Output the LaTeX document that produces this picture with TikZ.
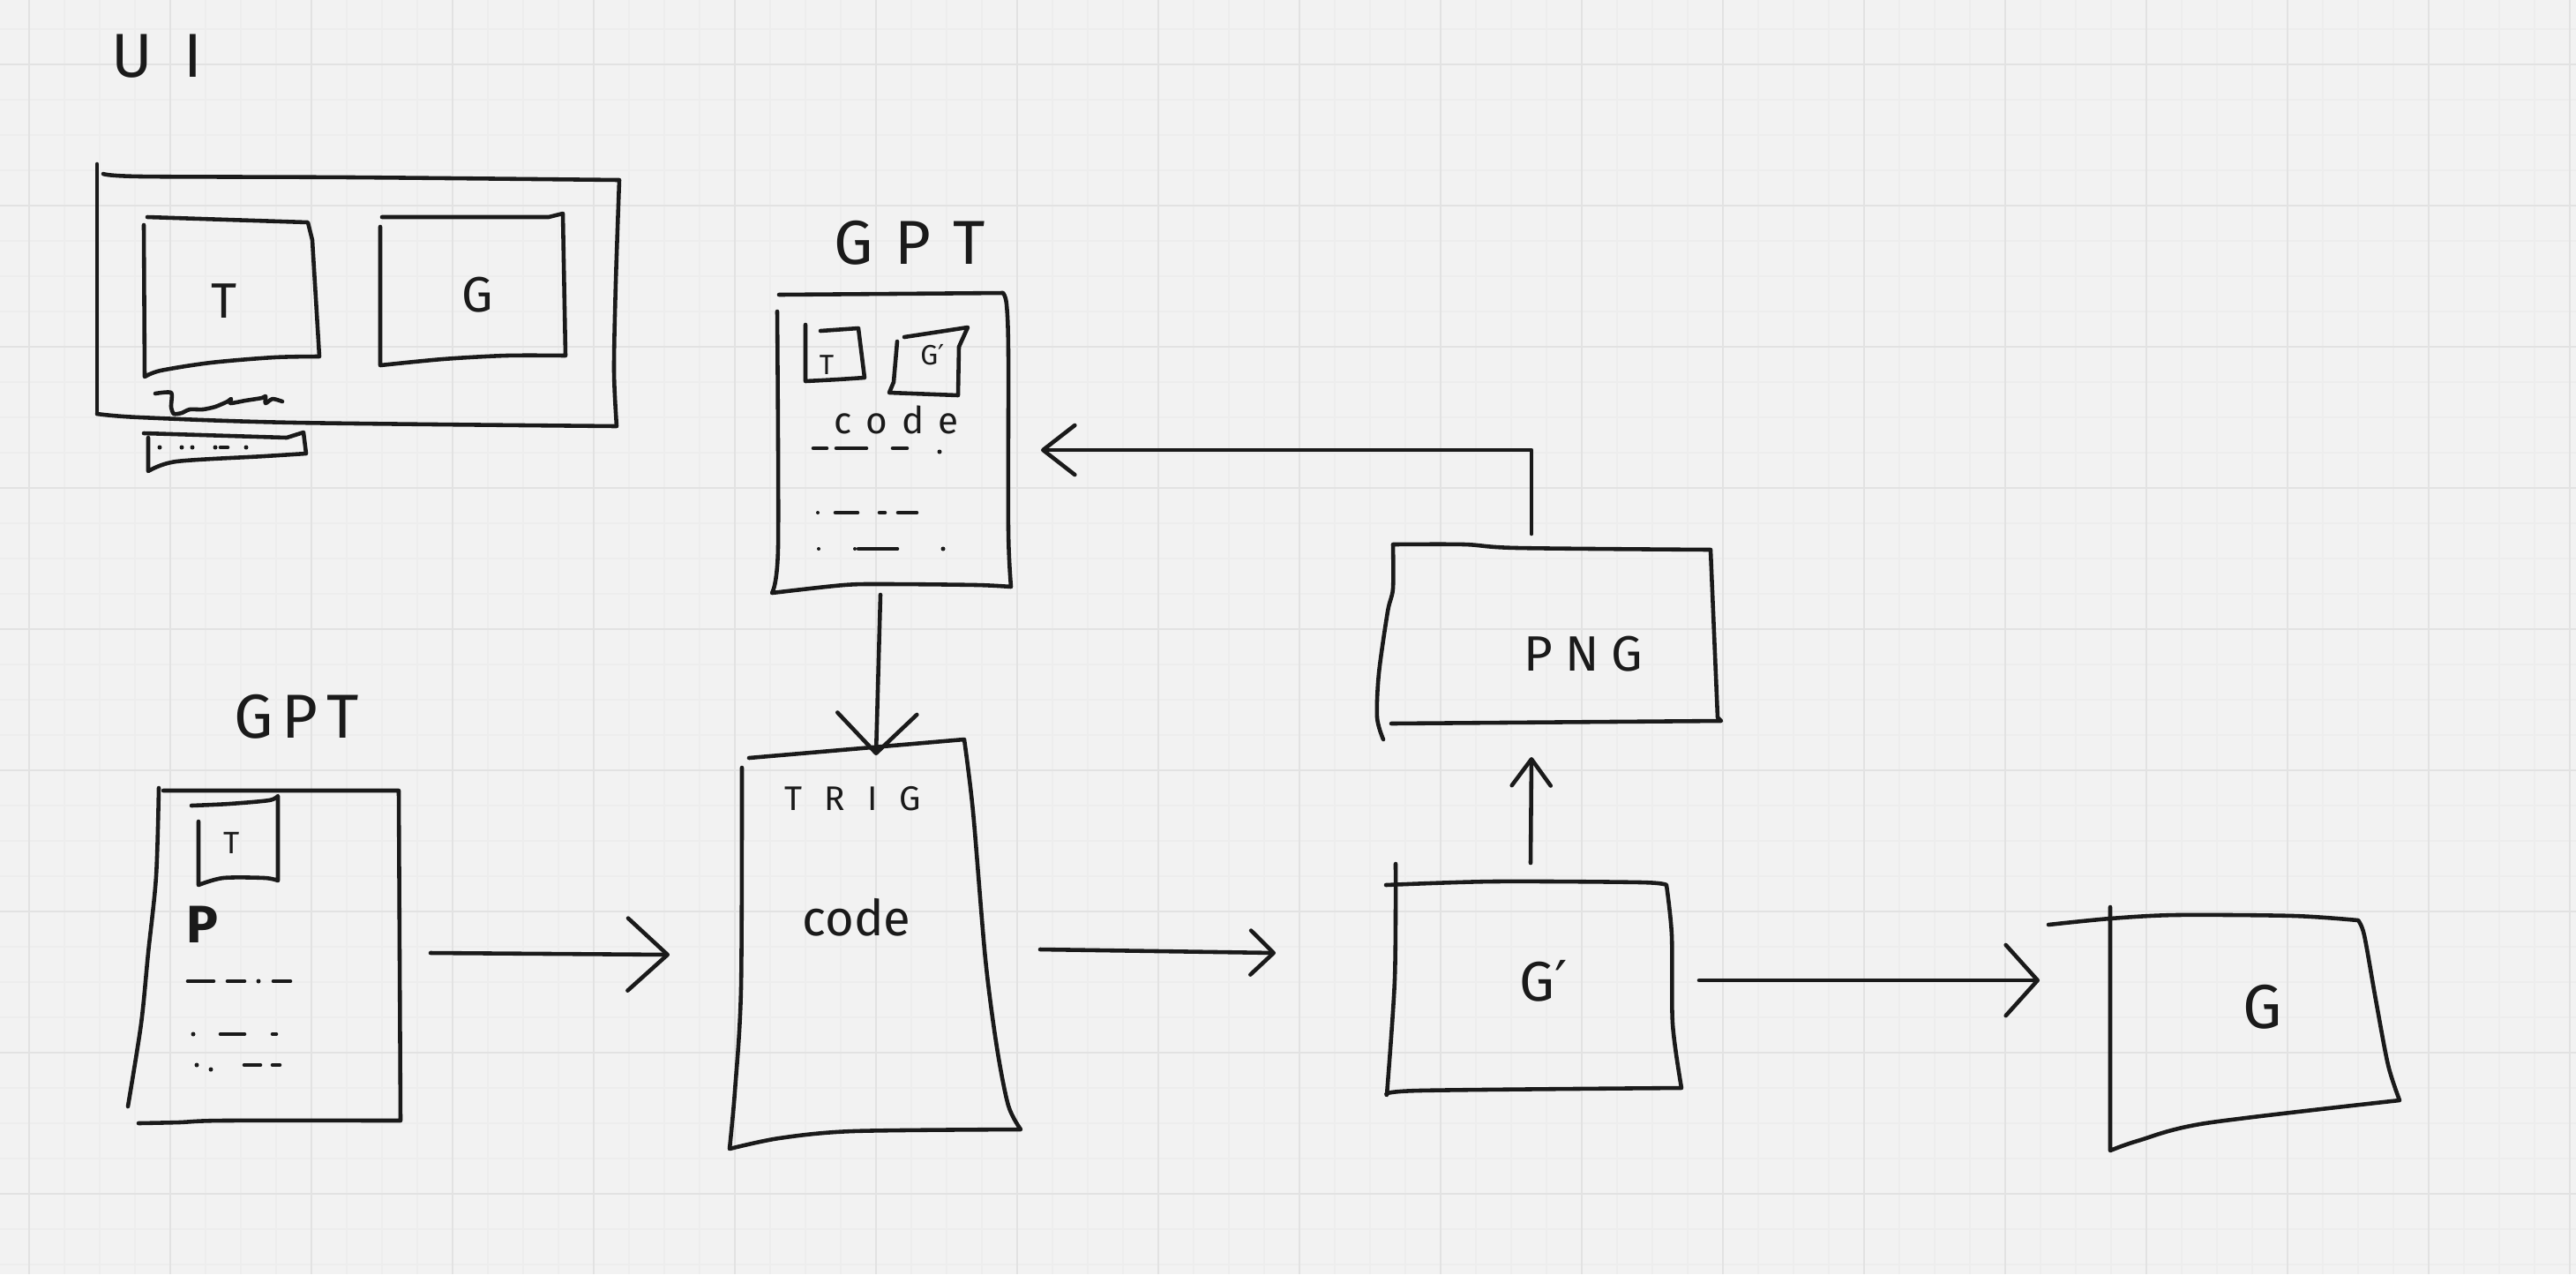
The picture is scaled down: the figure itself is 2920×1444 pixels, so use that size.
\documentclass[tikz,border=0pt]{standalone}
\usepackage{fontspec}
\setmainfont{Fira Sans}
\newfontfamily\dejavu{DejaVu Sans}
\usetikzlibrary{arrows.meta}
\definecolor{bgc}{HTML}{F2F2F2}
\definecolor{gridmajor}{HTML}{E2E2E2}
\definecolor{gridminor}{HTML}{EDEDED}
\definecolor{inkc}{HTML}{1A1A1A}
\begin{document}
\begin{tikzpicture}[x=0.01cm,y=-0.01cm,
  ink/.style={draw=inkc,line width=1.3pt,line cap=round,line join=round},
  lbl/.style={inner sep=0pt,text=inkc},
  conn/.style 2 args={ink,-{Straight Barb[length=#1,width=#2,round]}},
  gmin/.style={draw=gridminor,line width=0.4pt},
  gmaj/.style={draw=gridmajor,line width=0.75pt}]
\useasboundingbox (0,0) rectangle (2920,1444);
\fill[bgc] (0,0) rectangle (2920,1444);
% grid
\foreach \gx in {33,73,...,2913} \draw[gmin] (\gx,0) -- (\gx,1444);
\foreach \gy in {33,73,...,1433} \draw[gmin] (0,\gy) -- (2920,\gy);
\foreach \gx in {33,193,...,2913} \draw[gmaj] (\gx,0) -- (\gx,1444);
\foreach \gy in {73,233,...,1393} \draw[gmaj] (0,\gy) -- (2920,\gy);

% ---------- UI ----------
\node[lbl,font=\fontsize{20}{20}\selectfont] (uiL) at (178,64) {U\hspace{0.36cm}I};
\draw[ink] (110,186) -- (110,469);
\draw[ink] plot[smooth] coordinates {(110,469) (158,473) (335,479) (699,483)}
  -- plot[smooth] coordinates {(699,483) (696,420) (698,320) (702,204)}
  -- plot[smooth] coordinates {(702,204) (400,201) (160,200) (117,197)};
% T panel
\draw[ink] (167,246) -- (349,252) -- (354,272) -- (362,404)
  -- plot[smooth] coordinates {(362,404) (311,405) (239,411) (182,420) (164,427)} -- (163,255);
\node[lbl,font=\fontsize{16}{16}\selectfont] (uiT) at (254,341) {T};
% G panel
\draw[ink] (433,246) -- (622,246) -- (638,242) -- (641,403)
  -- plot[smooth] coordinates {(641,403) (574,403) (502,407) (431,414)} -- (431,257);
\node[lbl,font=\fontsize{16}{16}\selectfont] (uiG) at (541,334) {G};
% squiggle
\draw[ink] plot[smooth,tension=0.4] coordinates {(176,446) (194,445) (194,461) (197,469) (206,468) (215,464) (230,464) (244,461) (258,455) (262,452) (261,457) (278,454) (297,451) (301,449) (301,457) (309,452) (320,455)};
% bar below
\draw[ink] (163,491) -- (325,496) -- (344,490) -- (347,514)
  -- plot[smooth] coordinates {(347,514) (300,517) (200,523) (168,534)} -- (168,496);
\foreach \dx in {181,206,218,244,279} \fill[inkc] (\dx,507) circle[radius=2.5];
\draw[ink] (250,507) -- (258,507);

% ---------- GPT (top) ----------
\node[lbl,font=\fontsize{20}{20}\selectfont] (gptA) at (1031,275) {G\hspace{0.25cm}P\hspace{0.25cm}T};
\draw[ink] (883,334) -- (1137,332)
  -- plot[smooth] coordinates {(1137,332) (1141,345) (1143,400) (1143,600) (1146,665)}
  -- plot[smooth] coordinates {(1146,665) (1107,663) (1007,662) (957,663) (875,672)}
  -- plot[smooth] coordinates {(875,672) (882,620) (881,353)};
\draw[ink] (930,375) -- (973,372) -- (980,428)
  -- plot[smooth] coordinates {(980,428) (950,430) (913,432)} -- (913,368);
\node[lbl,font=\fontsize{9}{9}\selectfont] (gptAT) at (937,414) {T};
\draw[ink] (1025,382) -- (1097,371) -- (1087,393) -- (1086,448) -- (1008,445) -- (1013,433) -- (1017,387);
\node[lbl,font=\fontsize{9}{9}\selectfont] (gptAG) at (1057,402) {G{\dejavu ′}};
\node[lbl,font=\fontsize{12}{12}\selectfont,anchor=base] (gptAcode) at (1016,491) {c\hspace{4.5pt}o\hspace{4.5pt}d\hspace{4.5pt}e};
\draw[ink] (922,508) -- (937,508);
\draw[ink] (948,508) -- (982,508);
\draw[ink] (1012,508) -- (1028,508);
\fill[inkc] (1065,512) circle[radius=2.5];
\fill[inkc] (927,581) circle[radius=2];
\draw[ink] (947,581) -- (972,581);
\draw[ink] (997,581) -- (1003,581);
\draw[ink] (1018,581) -- (1039,581);
\fill[inkc] (928,622) circle[radius=2];
\fill[inkc] (969,622) circle[radius=2];
\draw[ink] (973,622) -- (1017,622);
\fill[inkc] (1069,622) circle[radius=2.5];

% ---------- GPT (bottom left) ----------
\node[lbl,font=\fontsize{20}{20}\selectfont] (gptB) at (336,812) {G\hspace{0.1cm}P\hspace{0.1cm}T};
\draw[ink] (185,896) -- (452,896) -- (454,1270)
  -- plot[smooth] coordinates {(454,1270) (253,1270) (203,1272) (157,1273)};
\draw[ink] plot[smooth] coordinates {(180,893) (177,993) (168,1080) (160,1160) (145,1254)};
\draw[ink] plot[smooth] coordinates {(217,913) (260,911) (305,907) (315,902)} -- (315,998)
  -- plot[smooth] coordinates {(315,998) (300,995) (253,995) (225,1003)} -- (225,931);
\node[lbl,font=\fontsize{10}{10}\selectfont] (gptBT) at (263,955) {T};
\node[lbl,font=\bfseries\fontsize{17}{17}\selectfont] (gptBP) at (229,1048) {P};
\draw[ink] (213,1112) -- (242,1112);
\draw[ink] (258,1112) -- (277,1112);
\fill[inkc] (293,1112) circle[radius=2.5];
\draw[ink] (310,1112) -- (329,1112);
\fill[inkc] (219,1172) circle[radius=2.5];
\draw[ink] (250,1172) -- (277,1172);
\draw[ink] (309,1172) -- (313,1172);
\fill[inkc] (223,1207) circle[radius=2.5];
\fill[inkc] (239,1212) circle[radius=2.5];
\draw[ink] (277,1207) -- (295,1207);
\draw[ink] (309,1207) -- (317,1207);

% ---------- TRIG code ----------
\draw[ink] (849,859) -- (1093,838)
  -- plot[smooth] coordinates {(1093,838) (1103,920) (1117,1087) (1130,1187) (1143,1253) (1157,1280)}
  -- plot[smooth] coordinates {(1157,1280) (967,1282) (883,1290) (827,1302)}
  -- plot[smooth] coordinates {(827,1302) (833,1237) (840,1120) (841,870)};
\node[lbl,font=\fontsize{11}{11}\selectfont] (trigL) at (967,905) {T\hspace{0.25cm}R\hspace{0.25cm}I\hspace{0.25cm}G};
\node[lbl,font=\fontsize{16}{16}\selectfont,anchor=base] (trigC) at (971,1060) {code};

% ---------- PNG ----------
\draw[ink] plot[smooth] coordinates {(1568,838) (1561,813) (1563,763) (1573,693) (1579,667) (1579,617)}
  -- plot[smooth] coordinates {(1579,617) (1660,617) (1720,621) (1939,623)}
  -- (1947,813) -- (1951,817) -- (1577,820);
\node[lbl,font=\fontsize{16}{16}\selectfont] (pngL) at (1795,741) {P\hspace{0.14cm}N\hspace{0.14cm}G};

% ---------- G' ----------
\draw[ink] plot[smooth] coordinates {(1571,1003) (1693,999) (1860,1000) (1889,1003)}
  -- plot[smooth] coordinates {(1889,1003) (1895,1060) (1896,1160) (1906,1233)}
  -- plot[smooth] coordinates {(1906,1233) (1609,1236) (1572,1241)}
  -- plot[smooth] coordinates {(1572,1241) (1581,1110) (1582,979)};
\node[lbl,font=\fontsize{18}{18}\selectfont] (gpL) at (1750,1112) {G{\dejavu ′}};

% ---------- G ----------
\draw[ink] plot[smooth] coordinates {(2322,1048) (2392,1041) (2467,1037) (2600,1038) (2673,1043)}
  -- plot[smooth] coordinates {(2673,1043) (2680,1060) (2693,1133) (2707,1207) (2720,1247)}
  -- plot[smooth] coordinates {(2720,1247) (2500,1273) (2423,1293) (2392,1304)}
  -- (2392,1028);
\node[lbl,font=\fontsize{20}{20}\selectfont] (gL) at (2565,1141) {G};

% ---------- connectors ----------
\coordinate (gptB-out) at (488,1080);
\coordinate (trig-in) at (759,1082);
\coordinate (gptA-out) at (998,674);
\coordinate (trig-top) at (993,856);
\coordinate (trig-out) at (1179,1076);
\coordinate (gp-in) at (1446,1080);
\coordinate (gp-top) at (1735,978);
\coordinate (png-in) at (1736,858);
\coordinate (gp-out) at (1926,1111);
\coordinate (g-in) at (2312,1111);
\coordinate (png-out) at (1736,605);
\coordinate (gptA-in) at (1180,510);
\draw[conn={4.5mm}{8.2mm}] (gptB-out) -- (trig-in);
\draw[conn={4.5mm}{9mm}] (gptA-out) -- (trig-top);
\draw[conn={2.6mm}{5mm}] (trig-out) -- (gp-in);
\draw[conn={3mm}{4.4mm}] (gp-top) -- (png-in);
\draw[conn={3.6mm}{8mm}] (gp-out) -- (g-in);
\draw[conn={3.6mm}{5.6mm}] (png-out) |- (gptA-in);
\end{tikzpicture}
\end{document}
